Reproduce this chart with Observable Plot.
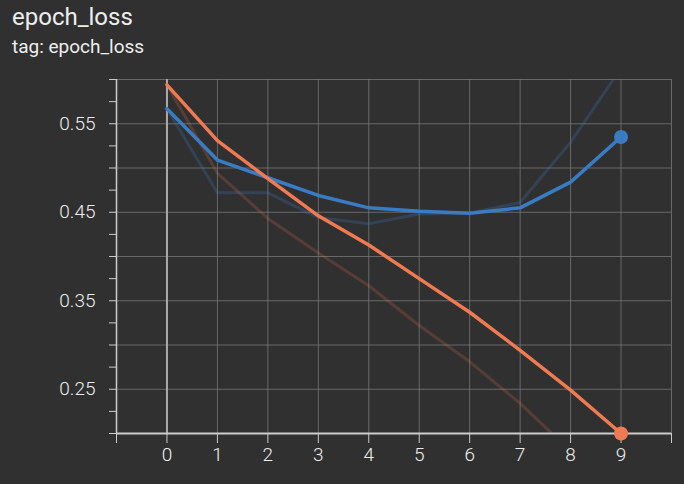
<!DOCTYPE html>
<html>
<head>
<meta charset="utf-8">
<script src="https://cdn.jsdelivr.net/npm/d3@7"></script>
<script src="https://cdn.jsdelivr.net/npm/@observablehq/plot@0.6"></script>
<style>
  body { margin: 0; background: #303030; font-family: Roboto, sans-serif; color: #eee; }
  #title { font-size: 24px; padding: 2px 0 0 12px; line-height: 30px; }
  #sub { font-size: 19px; padding: 0 0 0 12px; line-height: 30px; }
  #chart svg { display: block; }
</style>
</head>
<body>
<div id="title">epoch_loss</div>
<div id="sub">tag: epoch_loss</div>
<div id="chart"></div>
<script>
const epochs = [0, 1, 2, 3, 4, 5, 6, 7, 8, 9];
const orangeSmooth = [0.594, 0.531, 0.488, 0.446, 0.413, 0.375, 0.337, 0.294, 0.249, 0.200];
const orangeRaw = [0.594, 0.494, 0.443, 0.404, 0.367, 0.322, 0.281, 0.234, 0.180, 0.130];
const blueSmooth = [0.567, 0.509, 0.489, 0.469, 0.455, 0.451, 0.449, 0.455, 0.484, 0.535];
const blueRaw = [0.567, 0.472, 0.472, 0.444, 0.437, 0.448, 0.449, 0.461, 0.529, 0.613];
const yLabels = [0.25, 0.35, 0.45, 0.55];

const blue = "#3a7cc4", orange = "#f07a52";
const rows = (vals) => epochs.map((e, i) => ({epoch: e, loss: vals[i]}));
const last = (vals) => [{epoch: 9, loss: vals[9]}];
const blank = () => "";

const chart = Plot.plot({
  width: 684,
  height: 422,
  marginLeft: 116,
  marginRight: 13,
  marginTop: 17,
  marginBottom: 51,
  style: {background: "#303030", color: "#eee", fontFamily: "Roboto, sans-serif", fontSize: "19px"},
  x: {domain: [-1, 10], label: null},
  y: {domain: [0.2, 0.6], label: null},
  marks: [
    Plot.gridX(d3.range(-1, 11), {stroke: "#777", strokeOpacity: 0.8}),
    Plot.gridY(d3.range(0.2, 0.601, 0.05), {stroke: "#777", strokeOpacity: 0.8}),
    Plot.ruleX([0], {stroke: "#aaa", strokeWidth: 2}),
    Plot.axisY(d3.range(0.2, 0.601, 0.025), {tickSize: 7, tickFormat: blank, stroke: "#ccc"}),
    Plot.axisY(yLabels, {tickSize: 0, tickPadding: 21, tickFormat: d3.format(".2f"), fill: "#eee", fontWeight: 300}),
    Plot.axisX(d3.range(-1, 11), {tickSize: 10, tickFormat: blank, stroke: "#ccc"}),
    Plot.axisX(epochs, {tickSize: 0, tickPadding: 14, fill: "#eee", fontWeight: 300}),
    Plot.ruleY([0.2], {stroke: "#ccc", strokeWidth: 2}),
    Plot.ruleX([-1], {stroke: "#ccc", strokeWidth: 1.5}),
    Plot.line(rows(blueRaw), {x: "epoch", y: "loss", stroke: blue, strokeOpacity: 0.25, strokeWidth: 3, clip: true}),
    Plot.line(rows(orangeRaw), {x: "epoch", y: "loss", stroke: orange, strokeOpacity: 0.2, strokeWidth: 3, clip: true}),
    Plot.line(rows(blueSmooth), {x: "epoch", y: "loss", stroke: blue, strokeWidth: 3.5}),
    Plot.line(rows(orangeSmooth), {x: "epoch", y: "loss", stroke: orange, strokeWidth: 3.5}),
    Plot.dot(last(blueSmooth), {x: "epoch", y: "loss", fill: blue, r: 7}),
    Plot.dot(last(orangeSmooth), {x: "epoch", y: "loss", fill: orange, r: 7})
  ]
});
d3.select("#chart").append(() => chart);
</script>
</body>
</html>
